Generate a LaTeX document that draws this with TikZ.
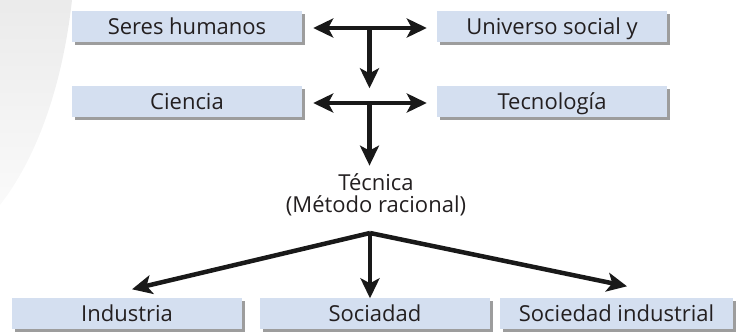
\documentclass[tikz,border=0pt]{standalone}
\usepackage{fontspec}
\setmainfont{Open Sans}
\usetikzlibrary{arrows.meta,shadows,calc}
\definecolor{boxfill}{HTML}{D4DFF0}
\definecolor{txt}{HTML}{231F20}
\begin{document}
\begin{tikzpicture}[x=1pt,y=-1pt,
  box/.style={fill=boxfill, minimum width=230pt, minimum height=31pt, inner sep=0pt,
    text height=18pt, text depth=2pt,
    text=txt, font=\fontsize{22}{22}\selectfont,
    drop shadow={shadow xshift=3pt, shadow yshift=-3pt, fill=black!55, opacity=0.7}},
  lbl/.style={text=txt, font=\fontsize{22}{22}\selectfont, align=center, inner sep=0pt},
  arr/.style={line width=4.5pt, draw=black!90, -{Stealth[length=20pt,width=19pt,inset=5pt]}},
  dbl/.style={line width=4.5pt, draw=black!90, {Stealth[length=20pt,width=19pt,inset=5pt]}-{Stealth[length=20pt,width=19pt,inset=5pt]}}]
\useasboundingbox (0,0) rectangle (739,333);
% faint background shape
\shade[top color=black!8, bottom color=black!2, draw=none]
  (0,0) -- (72,0) .. controls (62,90) and (35,160) .. (0,205) -- cycle;
% boxes
\node[box] (sh) at (187,26) {Seres humanos};
\node[box] (us) at (552,26) {Universo social y};
\node[box] (ci) at (187,101) {Ciencia};
\node[box] (te) at (552,101) {Tecnología};
\node[box] (ind) at (127,313) {Industria};
\node[box] (so) at (375,313) {Sociadad};
\node[box, minimum width=233pt] (si) at (616.5,313) {Sociedad industrial};
\node[lbl] (tec) at (376,195) {Técnica\\(Método racional)};
% top connectors
\coordinate (j1) at ($(sh.east)!0.5!(us.west)$);
\draw[dbl] ([xshift=11pt,yshift=-2pt]sh.east) -- ([xshift=-10pt,yshift=-2pt]us.west);
\draw[arr] (j1) -- ([yshift=-3pt]j1 |- ci.north);
\coordinate (j2) at ($(ci.east)!0.5!(te.west)$);
\draw[dbl] ([xshift=11pt,yshift=-2pt]ci.east) -- ([xshift=-10pt,yshift=-2pt]te.west);
\draw[arr] (j2) -- ([yshift=8pt]j2 |- tec.north);
% fork
\coordinate (fk) at (370,233);
\draw[arr] (fk) -- ([xshift=5pt,yshift=8pt]ind.north);
\draw[arr] (fk) -- ([yshift=-1pt]fk |- so.north);
\draw[arr] (fk) -- ([xshift=10.5pt,yshift=11pt]si.north);
\end{tikzpicture}
\end{document}
